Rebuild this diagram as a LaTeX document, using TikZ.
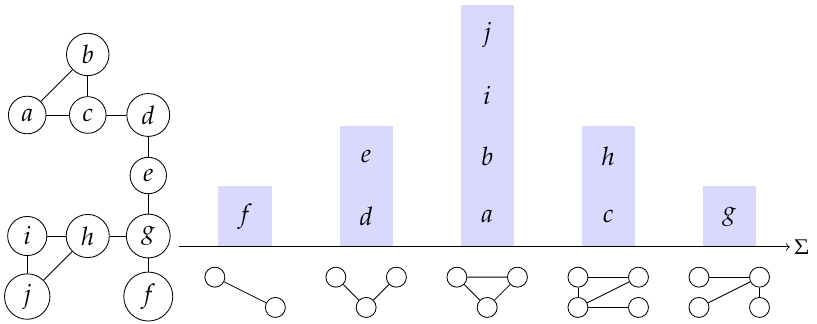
\documentclass[tikz,border=0pt]{standalone}
\usepackage{mathpazo}

\begin{document}
\begin{tikzpicture}[
        font=\large,
        vertex/.style={draw, circle, minimum size=0.58cm},
        small vertex/.style={draw, circle, minimum size=0.33cm, inner sep=0pt},
        bar fill/.style={fill=blue!15},
    ]

    \useasboundingbox (-2.05,-1.26) rectangle (11.45,4.08);

    % The graph on the left
    \begin{scope}[shift={(-1.6,-0.82)}]
        \node[vertex] (a) at (0,3) {$a$};
        \node[vertex] (b) at (1,4) {$b$};
        \node[vertex] (c) at (1,3) {$c$};
        \node[vertex] (d) at (2,3) {$d$};
        \node[vertex] (e) at (2,2) {$e$};
        \node[vertex] (g) at (2,1) {$g$};
        \node[vertex] (h) at (1,1) {$h$};
        \node[vertex] (i) at (0,1) {$i$};
        \node[vertex] (j) at (0,0) {$j$};
        \node[vertex] (f) at (2,0) {$f$};
    \end{scope}

    \foreach \u/\v in {a/b, a/c, b/c, c/d, d/e, e/g, g/h, h/i, i/j, h/j, g/f} {
        \draw (\u) -- (\v);
    }

    % Bars with the vertex labels stacked in them
    \foreach \stack/\n [count=\k] in {{f}/1, {d,e}/2, {a,b,i,j}/4, {c,h}/2, {g}/1} {
        \fill[bar fill] (2*\k-0.44,0) rectangle ++(0.88,\n);
        \foreach \lbl [count=\r] in \stack {
            \node (cell-\k-\r) at (2*\k, \r-0.5) {$\lbl$};
        }
    }

    % Axis
    \coordinate (axis start) at (0.9,0);
    \coordinate (axis end) at (11,0);
    \draw[->] (axis start) -- (axis end);
    \node[anchor=west, inner sep=2pt, font=\normalsize] (sigma) at (axis end) {$\Sigma$};

    % Small graphs below the axis
    \begin{scope}[shift={(2,0)}]
        \node[small vertex] (p1-1) at (-0.5,-0.5) {};
        \node[small vertex] (p1-2) at (0.5,-1) {};
    \end{scope}
    \draw (p1-1) -- (p1-2);

    \begin{scope}[shift={(4,0)}]
        \node[small vertex] (p2-1) at (-0.5,-0.5) {};
        \node[small vertex] (p2-2) at (0,-1) {};
        \node[small vertex] (p2-3) at (0.5,-0.5) {};
    \end{scope}
    \draw (p2-1) -- (p2-2) -- (p2-3);

    \begin{scope}[shift={(6,0)}]
        \node[small vertex] (p3-1) at (-0.5,-0.5) {};
        \node[small vertex] (p3-2) at (0,-1) {};
        \node[small vertex] (p3-3) at (0.5,-0.5) {};
    \end{scope}
    \draw (p3-1) -- (p3-2) -- (p3-3) -- (p3-1);

    \begin{scope}[shift={(8,0)}]
        \node[small vertex] (p4-1) at (-0.5,-0.5) {};
        \node[small vertex] (p4-2) at (0.5,-0.5) {};
        \node[small vertex] (p4-3) at (-0.5,-1) {};
        \node[small vertex] (p4-4) at (0.5,-1) {};
    \end{scope}
    \draw (p4-1) -- (p4-2);
    \draw (p4-1) -- (p4-3);
    \draw (p4-3) -- (p4-2);
    \draw[semithick] (p4-3) -- (p4-4);

    \begin{scope}[shift={(10,0)}]
        \node[small vertex] (p5-1) at (-0.5,-0.5) {};
        \node[small vertex] (p5-2) at (0.5,-0.5) {};
        \node[small vertex] (p5-3) at (-0.5,-1) {};
        \node[small vertex] (p5-4) at (0.5,-1) {};
    \end{scope}
    \draw (p5-1) -- (p5-2) -- (p5-4);
    \draw (p5-3) -- (p5-2);

\end{tikzpicture}
\end{document}
